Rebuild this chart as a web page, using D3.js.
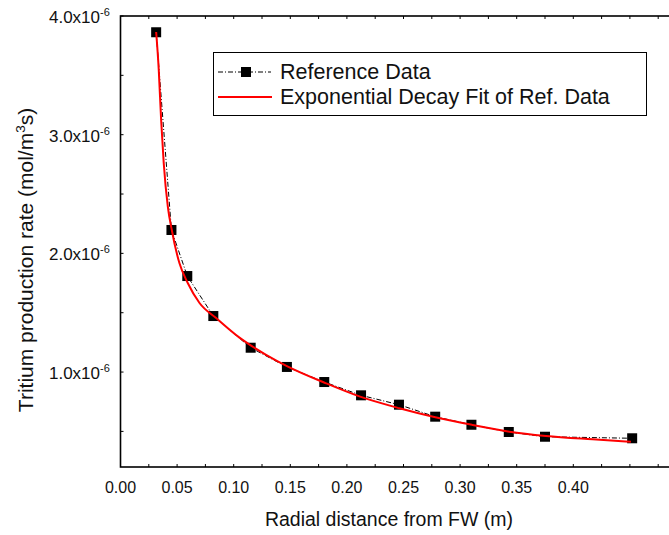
<!DOCTYPE html>
<html>
<head>
<meta charset="utf-8">
<script src="https://cdn.jsdelivr.net/npm/d3@7"></script>
<style>
  body { margin: 0; background: #fff; }
  svg { display: block; font-family: "Liberation Sans", Arial, sans-serif; }
</style>
</head>
<body>
<div id="chart"></div>
<script>
// reference data points (radial distance in m, rate in mol/m^3 s)
var refX = [0.0315, 0.045, 0.059, 0.082, 0.115, 0.147, 0.180, 0.2125, 0.246, 0.278, 0.310, 0.343, 0.375, 0.452];
var refY = [3.863e-6, 2.197e-6, 1.809e-6, 1.472e-6, 1.205e-6, 1.043e-6, 0.916e-6, 0.804e-6, 0.725e-6, 0.624e-6, 0.556e-6, 0.495e-6, 0.455e-6, 0.442e-6];

// exponential decay fit
var fitX = [0.0315, 0.0338, 0.0359, 0.0382, 0.0418, 0.0453, 0.0521, 0.0594, 0.0698, 0.0845, 0.1051, 0.115, 0.1286, 0.147, 0.1816, 0.2110, 0.2464, 0.2781, 0.3111, 0.3435, 0.3759, 0.4170, 0.4509];
var fitY = [3.865e-6, 3.545e-6, 3.124e-6, 2.759e-6, 2.393e-6, 2.197e-6, 1.916e-6, 1.750e-6, 1.582e-6, 1.455e-6, 1.290e-6, 1.225e-6, 1.145e-6, 1.050e-6, 0.905e-6, 0.795e-6, 0.695e-6, 0.619e-6, 0.554e-6, 0.497e-6, 0.461e-6, 0.433e-6, 0.413e-6];

var xTicks = [0, 0.05, 0.10, 0.15, 0.20, 0.25, 0.30, 0.35, 0.40];
var yTicks = [1e-6, 2e-6, 3e-6, 4e-6];
var legendLabels = ["Reference Data", "Exponential Decay Fit of Ref. Data"];

var width = 669, height = 535;
var plotLeft = 120.5, plotTop = 16, plotBottom = 467, plotRight = 686.5;

var svg = d3.select("#chart").append("svg")
    .attr("width", width)
    .attr("height", height);

var x = d3.scaleLinear().domain([0, 0.5]).range([plotLeft, plotRight]);
var y = d3.scaleLinear().domain([0.2e-6, 4.0e-6]).range([plotBottom, plotTop]);

// frame
svg.append("rect")
    .attr("x", plotLeft).attr("y", plotTop)
    .attr("width", plotRight - plotLeft).attr("height", plotBottom - plotTop)
    .attr("fill", "none").attr("stroke", "#000").attr("stroke-width", 1.6);

// inward ticks
var xMinor = d3.range(0, 0.5001, 0.025);
svg.append("g").selectAll("line")
    .data(xMinor).enter().append("line")
    .attr("x1", function (d) { return x(d); }).attr("x2", function (d) { return x(d); })
    .attr("y1", plotBottom).attr("y2", plotBottom - 3)
    .attr("stroke", "#000").attr("stroke-width", 1);
svg.append("g").selectAll("line")
    .data(xMinor).enter().append("line")
    .attr("x1", function (d) { return x(d); }).attr("x2", function (d) { return x(d); })
    .attr("y1", plotTop).attr("y2", plotTop + 3)
    .attr("stroke", "#000").attr("stroke-width", 1);
var yMinor = d3.range(0.5e-6, 4.01e-6, 0.5e-6);
svg.append("g").selectAll("line")
    .data(yMinor).enter().append("line")
    .attr("x1", plotLeft).attr("x2", plotLeft + 3)
    .attr("y1", function (d) { return y(d); }).attr("y2", function (d) { return y(d); })
    .attr("stroke", "#000").attr("stroke-width", 1);

// x tick labels
svg.append("g").selectAll("text")
    .data(xTicks).enter().append("text")
    .attr("x", function (d) { return x(d); })
    .attr("y", 493)
    .attr("text-anchor", "middle")
    .attr("font-size", 16)
    .attr("fill", "#111")
    .text(function (d) { return d.toFixed(2); });

// y tick labels: mantissa right-aligned, exponent as superscript
var yg = svg.append("g");
yg.selectAll("text.mant")
    .data(yTicks).enter().append("text")
    .attr("class", "mant")
    .attr("x", 100)
    .attr("y", function (d) { return y(d) + 7; })
    .attr("text-anchor", "end")
    .attr("font-size", 17)
    .attr("fill", "#111")
    .text(function (d) { return (d * 1e6).toFixed(1) + "x10"; });
yg.selectAll("text.exp")
    .data(yTicks).enter().append("text")
    .attr("class", "exp")
    .attr("x", 100)
    .attr("y", function (d) { return y(d); })
    .attr("font-size", 11)
    .attr("fill", "#111")
    .text("-6");

// axis titles
svg.append("text")
    .attr("x", (263 + 515) / 2)
    .attr("y", 526)
    .attr("text-anchor", "middle")
    .attr("font-size", 19.5)
    .attr("fill", "#111")
    .text("Radial distance from FW (m)");

var yt = svg.append("text")
    .attr("transform", "translate(33,260) rotate(-90)")
    .attr("text-anchor", "middle")
    .attr("font-size", 21)
    .attr("fill", "#111");
yt.append("tspan").text("Tritium production rate (mol/m");
yt.append("tspan").attr("dy", -8).attr("font-size", 13.5).text("3");
yt.append("tspan").attr("dy", 8).text("s)");

var refData = refX.map(function (d, i) { return { x: d, y: refY[i] }; });
var fitData = fitX.map(function (d, i) { return { x: d, y: fitY[i] }; });

// reference data line and markers
svg.append("path")
    .datum(refData)
    .attr("fill", "none")
    .attr("stroke", "#000")
    .attr("stroke-width", 1)
    .attr("stroke-dasharray", "5,2,1,2")
    .attr("d", d3.line().x(function (d) { return x(d.x); }).y(function (d) { return y(d.y); }));

svg.append("g").selectAll("rect")
    .data(refData).enter().append("rect")
    .attr("x", function (d) { return x(d.x) - 5; })
    .attr("y", function (d) { return y(d.y) - 5; })
    .attr("width", 10).attr("height", 10)
    .attr("fill", "#000");

// fit curve
svg.append("path")
    .datum(fitData)
    .attr("fill", "none")
    .attr("stroke", "#ff0000")
    .attr("stroke-width", 2)
    .attr("d", d3.line().curve(d3.curveMonotoneX)
        .x(function (d) { return x(d.x); }).y(function (d) { return y(d.y); }));

// legend
var lg = svg.append("g");
lg.append("rect")
    .attr("x", 213.5).attr("y", 52.5).attr("width", 433).attr("height", 63)
    .attr("fill", "#fff").attr("stroke", "#000").attr("stroke-width", 1);
lg.append("line")
    .attr("x1", 218).attr("x2", 271).attr("y1", 72).attr("y2", 72)
    .attr("stroke", "#000").attr("stroke-width", 1).attr("stroke-dasharray", "5,2,1,2");
lg.append("rect")
    .attr("x", 241).attr("y", 67).attr("width", 10).attr("height", 10).attr("fill", "#000");
lg.append("line")
    .attr("x1", 218).attr("x2", 272).attr("y1", 97).attr("y2", 97)
    .attr("stroke", "#ff0000").attr("stroke-width", 2);
lg.selectAll("text")
    .data(legendLabels).enter().append("text")
    .attr("x", 280)
    .attr("y", function (d, i) { return 72 + i * 25 + 7; })
    .attr("font-size", 21.5)
    .attr("fill", "#111")
    .text(function (d) { return d; });
</script>
</body>
</html>
